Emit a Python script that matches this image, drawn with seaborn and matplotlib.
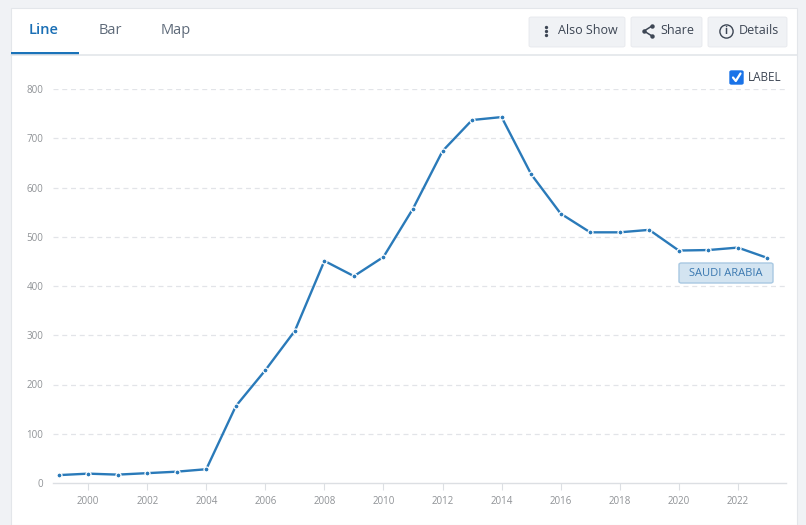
import matplotlib
matplotlib.use("Agg")
import matplotlib.pyplot as plt
from matplotlib.patches import FancyBboxPatch, Rectangle
from matplotlib.lines import Line2D
import seaborn as sns
import pandas as pd

years = list(range(1999, 2024))
values = [16, 19, 17, 20, 23, 28, 156, 229, 309, 451, 420, 459, 557, 674, 737, 743,
          627, 547, 509, 509, 514, 472, 473, 478, 457]
series_name = "SAUDI ARABIA"
x_ticks = list(range(2000, 2024, 2))
y_ticks = [0, 100, 200, 300, 400, 500, 600, 700, 800]
tabs = ["Line", "Bar", "Map"]
buttons = ["Also Show", "Share", "Details"]

sns.set_style("white")
plt.rcParams['font.family'] = ['Open Sans', 'DejaVu Sans']

W, H = 806, 525
fig = plt.figure(figsize=(W / 100, H / 100), dpi=100)
fig.patch.set_facecolor("#f0f2f5")


def fx(x):
    return x / W


def fy(y):
    return 1 - y / H


def dot(x, y, size, color, fill=True, lw=1.0):
    fig.lines.append(Line2D([fx(x)], [fy(y)], transform=fig.transFigure, marker="o",
                            markersize=size, linestyle="none",
                            markerfacecolor=color if fill else "none",
                            markeredgecolor=color, markeredgewidth=lw if not fill else 0,
                            zorder=5))


# white card
fig.patches.append(Rectangle((fx(11), fy(525)), fx(797) - fx(11), fy(8) - fy(525),
                             transform=fig.transFigure, facecolor="white",
                             edgecolor="#e3e6ea", linewidth=0.8, zorder=-5))

# tabs
tab_x = [44, 110, 176]
for i, (t, x) in enumerate(zip(tabs, tab_x)):
    fig.text(fx(x), fy(30), t, ha="center", va="center", fontsize=10.5,
             color="#1a6fb5" if i == 0 else "#5f6b7a",
             fontweight="semibold" if i == 0 else "normal")
fig.lines.append(Line2D([fx(11), fx(797)], [fy(55), fy(55)], transform=fig.transFigure,
                        color="#e3e6ea", linewidth=1.2))
fig.patches.append(Rectangle((fx(11), fy(55)), fx(79) - fx(11), fy(52) - fy(55),
                             transform=fig.transFigure, facecolor="#1a73b9",
                             edgecolor="none"))

# buttons
btn_boxes = [(529, 625), (631, 702), (708, 787)]
for (x0, x1), label in zip(btn_boxes, buttons):
    fig.patches.append(FancyBboxPatch((fx(x0), fy(47)), fx(x1) - fx(x0), fy(17) - fy(47),
                                      boxstyle="round,pad=0,rounding_size=0.003",
                                      transform=fig.transFigure, facecolor="#f0f2f5",
                                      edgecolor="#e6e8ec", linewidth=0.6))
fig.text(fx(558), fy(31), buttons[0], ha="left", va="center", fontsize=9, color="#3d4654")
for dy in (-4, 0, 4):
    dot(546, 31 + dy, 2.4, "#3d4654")
fig.text(fx(660), fy(31), buttons[1], ha="left", va="center", fontsize=9, color="#3d4654")
# share icon
pts = [(652, 26), (644, 31), (652, 36)]
fig.lines.append(Line2D([fx(p[0]) for p in pts], [fy(p[1]) for p in pts],
                        transform=fig.transFigure, color="#3d4654", linewidth=1.1))
for p in pts:
    dot(p[0], p[1], 3.2, "#3d4654")
fig.text(fx(739), fy(31), buttons[2], ha="left", va="center", fontsize=9, color="#3d4654")
# info icon
dot(726, 31, 9.5, "#3d4654", fill=False, lw=1.0)
fig.text(fx(726), fy(31.5), "i", ha="center", va="center", fontsize=7, color="#3d4654",
         fontweight="bold")

# checkbox LABEL
fig.patches.append(FancyBboxPatch((fx(730), fy(84)), fx(743) - fx(730), fy(71) - fy(84),
                                  boxstyle="round,pad=0,rounding_size=0.002",
                                  transform=fig.transFigure, facecolor="#1a73e8",
                                  edgecolor="#1a73e8"))
fig.lines.append(Line2D([fx(733), fx(735.8), fx(740.5)], [fy(77.5), fy(81), fy(73.5)],
                        transform=fig.transFigure, color="white", linewidth=1.6))
fig.text(fx(748), fy(77), "LABEL", ha="left", va="center", fontsize=8.5, color="#3d4654")

# chart axes
ax = fig.add_axes([fx(53), fy(483), fx(786) - fx(53), fy(89) - fy(483)])
ax.set_facecolor("none")
df = pd.DataFrame({"year": years, "value": values})
line_color = "#2a7ab9"
sns.lineplot(data=df, x="year", y="value", ax=ax, color=line_color, linewidth=1.7,
             marker="o", markersize=3.6, markerfacecolor=line_color,
             markeredgecolor="white", markeredgewidth=0.9, zorder=3)
ax.set_xlim(1998.81, 2023.63)
ax.set_ylim(0, 800)
ax.set_xticks(x_ticks)
ax.set_xticklabels([str(t) for t in x_ticks])
ax.set_yticks(y_ticks)
ax.set_yticklabels([str(t) for t in y_ticks])
ax.set_xlabel("")
ax.set_ylabel("")
for yv in y_ticks[1:]:
    ax.axhline(yv, color="#e2e4e8", linewidth=0.9, linestyle=(0, (4, 3)), zorder=0)
for s in ["top", "right", "left"]:
    ax.spines[s].set_visible(False)
ax.spines["bottom"].set_color("#dcdfe3")
ax.spines["bottom"].set_linewidth(1.0)
ax.tick_params(axis="x", length=5, width=0.8, color="#dcdfe3", labelsize=7,
               labelcolor="#8f9296", pad=4, bottom=True)
ax.tick_params(axis="y", length=0, labelsize=7, labelcolor="#8f9296", pad=7)

# series label box
fig.patches.append(FancyBboxPatch((fx(679), fy(283)), fx(773) - fx(679), fy(263) - fy(283),
                                  boxstyle="round,pad=0,rounding_size=0.003",
                                  transform=fig.transFigure, facecolor="#d3e4f1",
                                  edgecolor="#a8c8e2", linewidth=1.0))
fig.text(fx(726), fy(273), series_name, ha="center", va="center", fontsize=8,
         color="#3a78b0")

fig.savefig("out.png", dpi=100, facecolor=fig.get_facecolor())
